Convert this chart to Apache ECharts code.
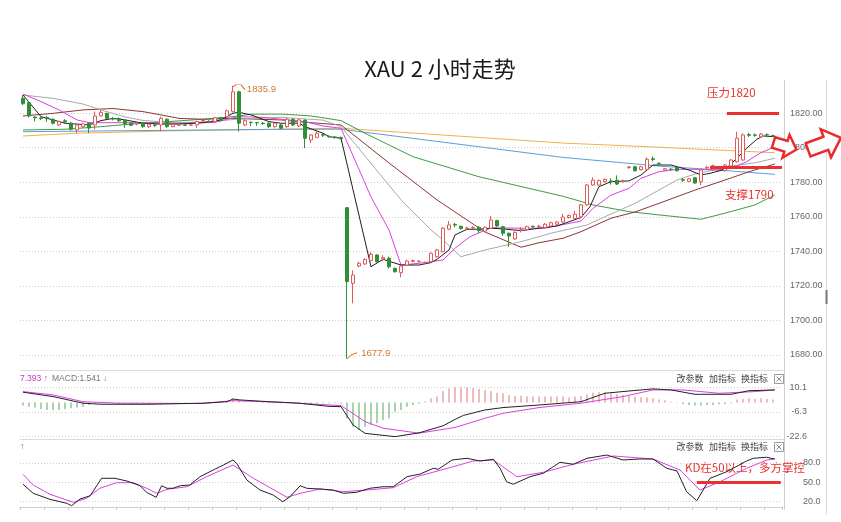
<!DOCTYPE html>
<html><head><meta charset="utf-8">
<script src="https://cdn.jsdelivr.net/npm/echarts@6/dist/echarts.min.js"></script>
<style>html,body{margin:0;padding:0;background:#fff}#c{width:841px;height:522px}</style>
</head><body><div id="c"></div>
<script>
// ---------- DATA ----------
// candles: [open, close, low, high]
const candles = [
[1828.6,1825.5,1824.7,1830.5],[1826.1,1818.4,1817.5,1826.8],[1817.8,1817.3,1815.3,1818],[1817.2,1817.0,1816,1818],[1817.5,1816.8,1815,1818.5],
[1816.5,1814.2,1813.5,1817],[1813.2,1815.1,1812.5,1815.6],[1815.6,1815.0,1814,1816.5],[1814.2,1810.7,1810,1814.8],[1810.3,1813.2,1808.5,1813.6],
[1812.2,1813.8,1811.5,1814.5],[1814.2,1811.4,1808.5,1814.5],[1813.2,1818.4,1810.5,1821],[1818.4,1820.5,1818,1822],[1819.9,1817.0,1816.5,1820.3],
[1816.8,1816.6,1815.8,1817.8],[1817.0,1815.6,1815,1817.5],[1816.0,1814.0,1811.5,1816.5],[1814.2,1813.0,1812.5,1814.6],[1813.8,1814.2,1813,1815],
[1814.5,1812.2,1811.6,1814.8],[1812.2,1813.6,1811.5,1814.2],[1813.2,1813.0,1812,1814],[1813.2,1817.0,1809.5,1818],[1816.5,1812.2,1811.5,1817],
[1812.2,1813.4,1811.8,1814],[1813.0,1813.2,1812.6,1813.6],[1813.2,1813.0,1812.6,1813.6],[1813.1,1813.2,1812.6,1813.6],[1813.2,1815.2,1811.5,1815.6],
[1815.5,1815.8,1814.5,1816.5],[1815.2,1815.0,1814.2,1816],[1815.2,1817.3,1814.6,1818],[1817.5,1815.8,1815.2,1817.8],[1818.0,1821.4,1817.3,1822],
[1820.9,1832.4,1820.5,1835.9],[1832.4,1814.2,1809.3,1833],[1813.2,1815.7,1812.5,1816.5],[1814.8,1814.6,1812.5,1815],[1814.6,1814.4,1812.6,1814.8],
[1814.2,1814.0,1813.2,1814.8],[1814.2,1812.2,1811.5,1814.6],[1812.2,1814.2,1811.6,1814.6],[1813.2,1811.3,1810.8,1813.8],[1812.2,1816.5,1811.5,1817.6],
[1816.5,1813.2,1812.6,1817],[1812.6,1816.1,1812,1816.6],[1816.0,1805.5,1799.7,1816.4],[1804.5,1807.4,1802.7,1808],[1806.0,1808.4,1805.5,1809.8],
[1807.6,1807.3,1806.3,1808.5],[1806.6,1806.4,1805.8,1807.2],[1806.2,1806.0,1805.2,1806.8],[1806.0,1805.2,1804.8,1806.4],[1765.3,1722.5,1677.9,1765.5],
[1721.5,1726.3,1709.9,1729],[1731.5,1733.1,1730.8,1734],[1732.7,1735.4,1732.2,1736],[1734.6,1738.3,1734.2,1739.5],[1737.9,1734.0,1733.5,1738.3],
[1735.6,1736.4,1734.2,1737.8],[1736.0,1731.1,1730,1737],[1730.2,1728.2,1727.8,1730.6],[1727.7,1731.5,1725,1732],[1732.1,1734.4,1731.6,1735.2],
[1734.2,1734.6,1733.6,1735.4],[1734.1,1734.3,1733.5,1735],[1733.3,1733.5,1732.6,1734.2],[1734.0,1738.9,1733.5,1739.5],[1736.9,1740.8,1736.3,1741.5],
[1739.8,1753.4,1739.5,1754],[1752.8,1755.3,1752.3,1757.5],[1755.6,1755.2,1754,1756.5],[1754.5,1753.2,1752.6,1754.9],[1753.3,1753.5,1752.5,1754.4],
[1753.6,1753.8,1752.8,1754.6],[1754.0,1752.0,1750.5,1754.5],[1751.7,1754.0,1751.2,1754.5],[1753.4,1758.2,1753,1760.5],[1757.8,1754.7,1754.2,1758.3],
[1754.3,1750.5,1749,1754.8],[1750.5,1748.9,1742.7,1750.9],[1747.2,1751.0,1746.6,1751.6],[1752.2,1752.6,1751,1754],[1752.6,1754.3,1752.2,1755],
[1754.5,1754.2,1753.8,1755],[1754.2,1754.6,1753.5,1755.4],[1753.8,1755.7,1753.3,1756.4],[1754.7,1756.6,1754.2,1757.2],[1755.7,1757.0,1755.2,1757.6],
[1757.0,1759.9,1756.5,1761.8],[1759.6,1760.7,1759,1761.4],[1759.0,1761.5,1758.6,1763.5],[1760.0,1766.9,1759.2,1767.5],[1766.9,1778.4,1766.5,1779],
[1778.4,1781.3,1778,1782.8],[1778.4,1781.0,1778,1781.6],[1780.3,1781.7,1779.8,1782.2],[1780.8,1780.4,1778.6,1782.3],[1781.2,1779.0,1778.4,1784],
[1780.6,1780.8,1779.8,1781.6],[1788.5,1788.9,1787.8,1789.5],[1789.0,1786.7,1786.2,1789.5],[1787.3,1789.0,1786.8,1789.5],[1787.5,1793.3,1787,1794.5],
[1793.6,1793.2,1792.2,1795],[1791.0,1790.8,1790.2,1791.6],[1787.0,1787.8,1786.5,1788.3],[1787.6,1787.4,1786.8,1788.2],[1788.5,1786.7,1786.3,1789],
[1781.5,1781.2,1780.2,1782.3],[1780.5,1782.0,1780,1782.5],[1782.6,1779.6,1779,1783],[1780.3,1787.1,1778.4,1787.6],[1788.3,1788.7,1787.5,1789.5],
[1787.3,1789.6,1786.8,1790.2],[1788.6,1788.8,1787.8,1789.6],[1786.7,1790.0,1786.2,1790.6],[1789.4,1792.9,1789,1793.5],[1791.9,1805.5,1791.4,1809.3],
[1792.9,1807.4,1792.4,1808.4],[1807.6,1807.2,1806.2,1808.6],[1807.4,1807.2,1806.4,1808.3],[1806.3,1807.9,1805.8,1808.5],[1807.6,1807.4,1806.8,1808.3],
[1807.0,1806.8,1806.2,1807.6]
];
const slotCount = 127;
const categories = Array.from({length: slotCount}, (_, i) => 'K' + i);

// moving averages: [candle index, value]
const ma5 = [[0,1830.5],[3,1818],[7,1814.2],[11,1813.2],[13,1815.7],[15,1817],[17,1816.1],[20,1814.2],[23,1813.7],[26,1813.7],[30,1814.5],[33,1816.1],[35,1820],[36,1820.5],[38,1819],[41,1815.1],[43,1814.2],[46,1814.2],[47,1812.2],[50,1808.4],[51,1806.4],[53,1805.5],[58,1731.1],[60,1735.4],[63,1732.1],[66,1732.1],[68,1733.5],[69,1735.4],[71,1740.8],[72,1749.5],[74,1752.8],[76,1752.8],[78,1753.4],[80,1753],[83,1752],[86,1753.4],[89,1754.7],[93,1759.6],[94.5,1765.9],[96,1777.5],[98,1780.3],[101,1780.8],[103,1784.2],[105,1790],[108,1790],[111,1787.1],[113,1784.2],[114.5,1785.2],[117,1787.5],[119,1793.9],[120.6,1799.7],[122.3,1804.9],[123.4,1806.8],[125.3,1806.4]];
const ma10 = [[0,1831.1],[3,1826.7],[6,1821.9],[9,1816.1],[11,1814.5],[13,1814.5],[20,1814.5],[24,1814.2],[27,1814.2],[32,1814.7],[34,1816.5],[36,1818],[40,1817.6],[43,1816.5],[47,1815.1],[50,1812.6],[53,1811.3],[58,1771.5],[61,1752.4],[63,1732.1],[66,1733.1],[70,1735],[72,1741.8],[74.5,1748.5],[78,1753.7],[83,1753.4],[87,1753.4],[93,1757.6],[95,1764.9],[98,1772.6],[101,1776.5],[103,1782.3],[106,1786.1],[109,1787.5],[113,1787.5],[115.6,1787.1],[118,1788.1],[120.6,1791.9],[122.8,1796.8],[125.3,1800.6]];
const ma20 = [[0,1830.5],[5,1828.6],[10,1825.3],[13,1821.9],[17,1817.8],[20,1815.8],[25,1814.5],[30,1814.9],[36,1816.6],[43,1817.6],[50,1816],[53,1812.2],[63,1769.8],[68,1752.4],[70,1746.6],[73,1736.9],[77,1740.8],[83,1745.6],[88,1750.5],[94,1755.3],[97,1760.1],[102,1767.8],[106,1775.5],[109,1781.3],[112,1784.8],[115,1787.1],[118,1789.4],[122,1791.3],[125.3,1793.9]];
const ma30 = [[0,1818.4],[5,1819.9],[10,1821.9],[15,1822.7],[20,1820.9],[23,1819],[26,1817],[30,1816.5],[35,1817],[43,1816.1],[48,1814.5],[53,1813.2],[61,1791.2],[69,1769.8],[77,1751.2],[83,1742.4],[86,1745],[90,1747.6],[93,1751.4],[98,1759.2],[102,1762.8],[106,1767.8],[112,1775.5],[117,1781.3],[121,1786.1],[125.3,1790.6]];
const ma60 = [[0,1810.3],[7,1810.7],[13,1812.2],[18,1813.7],[24,1815.1],[30,1816.5],[35,1818],[38,1819.4],[43,1819.5],[48,1818.4],[53,1815.7],[57,1808.4],[65,1794.8],[76,1783.2],[90,1771.9],[95,1766.9],[101,1763],[106,1761.1],[113,1758.6],[117,1762.1],[122,1766.9],[125.3,1772.6]];
const ma120 = [[0,1809.3],[43,1810.7],[53,1810.7],[90,1794.4],[106,1789.4],[116,1787.1],[125.3,1784.6]];
const ma250 = [[0,1806.8],[9,1808.4],[24,1809.7],[43,1810.7],[53,1811.3],[90,1802.7],[106,1800.3],[125.3,1797.1]];

// MACD
const macdBars = [
-2.1,-2.8,-3.4,-4.3,-5,-5,-5,-4.5,-3.9,-3.4,
-2.8,-1.7,-0.8,-0.5,-0.3,-0.2,-0.3,-0.4,-0.4,-0.3,
-0.4,-0.3,-0.2,0.2,0.1,-0.2,-0.2,-0.2,-0.1,0.2,
0.3,0.2,0.4,0.4,1.2,2.6,1.2,0.4,0.2,-0.2,
-0.4,-0.5,-0.5,-0.5,-0.3,-0.4,-0.4,-1.2,-1.0,-0.8,
-0.6,-0.6,-0.6,-0.7,-10.5,-16.1,-18.3,-16.1,-14.9,-13.8,
-11.6,-10.5,-6.1,-5,-2.8,-1.7,-0.8,0.8,2.8,3.9,
7.6,9.4,10.1,10.1,10.1,9.4,9,8.3,7.6,6.5,
6.1,5,4.5,4.5,3.9,3.9,3.9,3.9,3.9,3.9,
3.9,3.2,3.9,4.3,5.4,6.5,6.8,6.8,6.1,5.4,
5,4.3,3.9,3.4,3.2,2.8,1.9,1.5,0.5,0.3,
-1.2,-1.7,-2.1,-2.1,-1.7,-1.7,-1.2,-1.2,-0.5,1.9,
2.3,2.8,2.3,2.8,2.3,1.9
];
const difLine = [[0,6.8],[5,3.9],[10,-0.5],[13,-1.2],[21,-1.2],[30,-0.5],[34,0.5],[35,2.3],[36,1.7],[41,0.5],[46,-0.5],[51,-2.6],[53,-2.8],[55,-14.9],[57,-20.5],[62,-22.7],[66,-20.2],[70,-15.5],[72,-11.3],[73.4,-8.6],[77,-5],[80,-3.4],[86,-1.7],[93,0.5],[97,6.1],[101,7.6],[105,9],[108,8.3],[112,5.4],[118,5.4],[121,7.8],[125.3,8.3]];
const deaLine = [[0,7.2],[5,5],[10,0.5],[16,-0.5],[30,-0.7],[35,1.2],[43,0.1],[53,-2.1],[57,-12.7],[60,-17.1],[66,-20.4],[72,-16.6],[77,-10.5],[80,-7.2],[86,-3.4],[93,-0.5],[100,3.9],[105,8.3],[110,8.3],[116,6.1],[122,7.2],[125.3,8.3]];

// KD
const kLine = [[0,46.9],[1.7,32.9],[4.5,23.5],[7.3,17.3],[8.1,13.6],[9.5,24],[11.2,29.1],[13.1,56.2],[15.3,56.2],[17.3,52],[19.5,44.7],[20.6,34.4],[22.2,26.7],[23.1,44.7],[24,40.7],[25,40.7],[26.2,44.7],[27.8,45.8],[29.5,58.7],[31.7,69.1],[33.4,76.9],[35,84.7],[35.6,79.5],[37.3,53.6],[39.5,38],[41.7,30.2],[43.3,19.8],[44.5,27.6],[46.2,44.7],[47.3,40.7],[49.5,39.6],[51.7,38],[53.4,32.9],[55.6,34.4],[57.8,40.7],[60,43.1],[61.7,43.1],[64,58.7],[66.2,62.9],[68.4,71.8],[69.2,70.2],[71.5,84.7],[74,87.3],[76.2,83.1],[78.4,85.8],[79.5,71.8],[80.6,50.9],[81.7,46.9],[84.5,58.7],[86.7,64],[89.5,81.1],[91.7,78],[94,87.3],[97.3,92.4],[100,84.7],[102.8,86.2],[105,86.2],[107.3,71.8],[109,67.6],[110.6,35.4],[112.3,21.4],[114.5,56.2],[117.3,66.5],[120.6,83.1],[121.7,87.3],[123.9,88.9],[125.3,86.2]];
const dLine = [[0,62.4],[1.7,45.8],[4.5,31.3],[8.4,18.9],[10.6,25.1],[12.8,40.7],[15.6,49.4],[18.4,49.4],[20.6,40.7],[22.3,32.9],[24,39.1],[27.3,43.1],[30.6,58.7],[35,76.9],[38.4,56.2],[44,26.7],[46.2,32.9],[49.5,39.6],[53.4,35.4],[57.3,38],[61.7,41.6],[65.6,58.7],[71.7,74.2],[75,83.1],[78.4,84.7],[82.3,58.7],[86.7,65.5],[91.7,78],[98.4,90.9],[105,86.2],[109.5,69.1],[112.8,38],[116.2,50.9],[120.6,71.8],[124,84.7],[125.3,86.2]];

// ticks
const priceTicks = [1680,1700,1720,1740,1760,1780,1800,1820];
const macdTicks = [10.1,-6.3,-22.6];
const kdTicks = [80,50,20];

// annotations
const resistanceLine = [[117.3,1820],[126,1820]];
const supportLine = [[114.5,1788.5],[126.5,1788.5]];
const kdLevelLine = [[112.3,50],[126.3,50]];
const highPoint = [35, 1835.9];
const lowPoint = [54, 1677.9];

// ---------- CHART ----------
const RED = '#e05a5a', GREEN = '#2f8f37', ANNO = '#e8322f';
const labelFont = {fontSize: 9, color: '#666', fontFamily: 'Liberation Sans'};
const dotted = {color: '#cfcfcf', type: [1, 2], width: 1};
const gridBase = {left: 20, width: 762, outerBoundsMode: 'none', containLabel: false};

function maSeries(name, data, color) {
  return {name, type: 'line', xAxisIndex: 1, yAxisIndex: 0, data, showSymbol: false, symbol: 'none',
    lineStyle: {color, width: 1}, silent: true, z: 3};
}

const chart = echarts.init(document.getElementById('c'), null, {renderer: 'canvas', width: 841, height: 522});
chart.setOption({
  animation: false,
  backgroundColor: '#fff',
  grid: [
    Object.assign({top: 78.65, height: 310.9}, gridBase),
    Object.assign({top: 370.8, height: 65.7}, gridBase),
    Object.assign({top: 443.7, height: 77.2}, gridBase)
  ],
  xAxis: [
    {type: 'category', gridIndex: 0, data: categories, show: false, boundaryGap: true},
    {type: 'value', gridIndex: 0, min: -0.5, max: slotCount - 0.5, show: false},
    {type: 'category', gridIndex: 1, data: categories, show: false, boundaryGap: true},
    {type: 'value', gridIndex: 1, min: -0.5, max: slotCount - 0.5, show: false},
    {type: 'category', gridIndex: 2, data: categories, boundaryGap: true, offset: -14,
      axisLine: {show: true, lineStyle: {color: '#d0d0d0'}},
      axisTick: {show: true, interval: 3, length: 3, lineStyle: {color: '#c4c4c4'}},
      axisLabel: {show: false}, splitLine: {show: false}},
    {type: 'value', gridIndex: 2, min: -0.5, max: slotCount - 0.5, show: false}
  ],
  yAxis: [
    {type: 'value', gridIndex: 0, position: 'right', min: 1660, max: 1840, interval: 20,
      axisLine: {show: false}, axisTick: {show: false},
      axisLabel: Object.assign({margin: 8, formatter: v => priceTicks.includes(v) ? v.toFixed(2) : ''}, labelFont),
      splitLine: {show: true, lineStyle: dotted, showMinLine: false, showMaxLine: false}},
    {type: 'value', gridIndex: 1, position: 'right', min: -22.6, max: 21, interval: 16.35,
      axisLine: {show: false}, axisTick: {show: false},
      axisLabel: Object.assign({margin: 25, align: 'right', formatter: v => {
        const t = macdTicks.find(t => Math.abs(t - v) < 0.2); return t === undefined ? '' : t.toFixed(1);
      }}, labelFont),
      splitLine: {show: true, lineStyle: dotted, showMaxLine: false}},
    {type: 'value', gridIndex: 2, position: 'right', min: -10, max: 110, interval: 30,
      axisLine: {show: false}, axisTick: {show: false},
      axisLabel: Object.assign({margin: 21, formatter: v => kdTicks.includes(v) ? v.toFixed(1) : ''}, labelFont),
      splitLine: {show: true, lineStyle: dotted, showMinLine: false, showMaxLine: false}}
  ],
  series: [
    {type: 'candlestick', xAxisIndex: 0, yAxisIndex: 0, data: candles, barWidth: 4, z: 4,
      itemStyle: {color: '#ffffff', color0: GREEN, borderColor: RED, borderColor0: GREEN, borderWidth: 1},
      markPoint: {
        silent: true, animation: false,
        data: [
          {coord: highPoint, value: highPoint[1], symbol: 'path://M0,2 L3,0 L8,0 L12,5', symbolSize: [12, 5], symbolOffset: [6, 1.5],
            itemStyle: {color: 'none', borderColor: '#d2782f', borderWidth: 1},
            label: {show: true, position: 'right', distance: 1, formatter: p => String(p.value), color: '#d2782f', fontSize: 9.5, fontFamily: 'Liberation Sans', offset: [-3, 2]}},
          {coord: lowPoint, value: lowPoint[1], symbol: 'path://M0,6 L5,2 L10,0', symbolSize: [10, 6], symbolOffset: [5, -3],
            itemStyle: {color: 'none', borderColor: '#d2782f', borderWidth: 1},
            label: {show: true, position: 'right', distance: 1, formatter: p => String(p.value), color: '#d2782f', fontSize: 9.5, fontFamily: 'Liberation Sans', offset: [0, -2]}}
        ]
      }},
    maSeries('MA250', ma250, '#f0b24a'),
    maSeries('MA120', ma120, '#5b9fd6'),
    maSeries('MA60', ma60, '#3f9b3f'),
    maSeries('MA30', ma30, '#8e3535'),
    maSeries('MA20', ma20, '#a9a9a9'),
    maSeries('MA10', ma10, '#de3fde'),
    Object.assign(maSeries('MA5', ma5, '#1e1e1e'), {
      markLine: {silent: true, symbol: ['none', 'none'], label: {show: false}, animation: false,
        lineStyle: {color: ANNO, width: 3, type: 'solid'},
        data: [
          [{coord: resistanceLine[0]}, {coord: resistanceLine[1]}],
          [{coord: supportLine[0]}, {coord: supportLine[1]}]
        ]}
    }),
    {type: 'bar', xAxisIndex: 2, yAxisIndex: 1, data: macdBars, barWidth: 1, silent: true,
      itemStyle: {color: p => p.value >= 0 ? '#e07a7a' : '#5aa55a'}},
    {type: 'line', xAxisIndex: 3, yAxisIndex: 1, data: deaLine, showSymbol: false, symbol: 'none', lineStyle: {color: '#de3fde', width: 1}, silent: true},
    {type: 'line', xAxisIndex: 3, yAxisIndex: 1, data: difLine, showSymbol: false, symbol: 'none', lineStyle: {color: '#222', width: 1}, silent: true},
    {type: 'line', xAxisIndex: 5, yAxisIndex: 2, data: dLine, showSymbol: false, symbol: 'none', lineStyle: {color: '#de3fde', width: 1}, silent: true},
    {type: 'line', xAxisIndex: 5, yAxisIndex: 2, data: kLine, showSymbol: false, symbol: 'none', lineStyle: {color: '#222', width: 1}, silent: true,
      markLine: {silent: true, symbol: ['none', 'none'], label: {show: false}, animation: false,
        lineStyle: {color: ANNO, width: 3, type: 'solid'},
        data: [[{coord: kdLevelLine[0]}, {coord: kdLevelLine[1]}]]}}
  ],
  graphic: [
    {type: 'text', x: 440, y: 69, style: {text: 'XAU 2 小时走势', fontSize: 22, fontFamily: 'Noto Sans CJK SC', fill: '#1a1a1a', align: 'center', verticalAlign: 'middle'}},
    // panel frames
    {type: 'rect', shape: {x: 20, y: 364, width: 762, height: 6}, style: {fill: '#fff'}, z: 100},
    {type: 'line', shape: {x1: 20, y1: 370.5, x2: 784, y2: 370.5}, style: {stroke: '#dcdcdc', lineWidth: 1}, z: 100},
    {type: 'line', shape: {x1: 20, y1: 439.5, x2: 784, y2: 439.5}, style: {stroke: '#dcdcdc', lineWidth: 1}},
    {type: 'line', shape: {x1: 784.5, y1: 80, x2: 784.5, y2: 510}, style: {stroke: '#d0d0d0', lineWidth: 1}},
    {type: 'line', shape: {x1: 826.5, y1: 80, x2: 826.5, y2: 515}, style: {stroke: '#d8d8d8', lineWidth: 1}},
    {type: 'line', shape: {x1: 826.5, y1: 290, x2: 826.5, y2: 304}, style: {stroke: '#777', lineWidth: 2}},
    // MACD header
    {type: 'text', x: 20, y: 379, style: {text: '7.393 ↑', fontSize: 8.5, fontFamily: 'Liberation Sans', fill: '#c43ac4', verticalAlign: 'middle'}},
    {type: 'text', x: 52, y: 379, style: {text: 'MACD:1.541 ↓', fontSize: 8.5, fontFamily: 'Liberation Sans', fill: '#777', verticalAlign: 'middle'}},
    {type: 'text', x: 676.5, y: 379, style: {text: '改参数', fontSize: 9, fontFamily: 'Noto Sans CJK SC', fill: '#444', verticalAlign: 'middle'}},
    {type: 'text', x: 709, y: 379, style: {text: '加指标', fontSize: 9, fontFamily: 'Noto Sans CJK SC', fill: '#444', verticalAlign: 'middle'}},
    {type: 'text', x: 741, y: 379, style: {text: '换指标', fontSize: 9, fontFamily: 'Noto Sans CJK SC', fill: '#444', verticalAlign: 'middle'}},
    {type: 'rect', shape: {x: 774.5, y: 374.5, width: 9, height: 9}, style: {fill: '#fff', stroke: '#999', lineWidth: 1}},
    {type: 'line', shape: {x1: 776.5, y1: 376.5, x2: 781.5, y2: 381.5}, style: {stroke: '#888', lineWidth: 1}},
    {type: 'line', shape: {x1: 781.5, y1: 376.5, x2: 776.5, y2: 381.5}, style: {stroke: '#888', lineWidth: 1}},
    // KD header
    {type: 'text', x: 20, y: 447, style: {text: '↑', fontSize: 9, fontFamily: 'Liberation Sans', fill: '#c43ac4', verticalAlign: 'middle'}},
    {type: 'text', x: 676.5, y: 447, style: {text: '改参数', fontSize: 9, fontFamily: 'Noto Sans CJK SC', fill: '#444', verticalAlign: 'middle'}},
    {type: 'text', x: 709, y: 447, style: {text: '加指标', fontSize: 9, fontFamily: 'Noto Sans CJK SC', fill: '#444', verticalAlign: 'middle'}},
    {type: 'text', x: 741, y: 447, style: {text: '换指标', fontSize: 9, fontFamily: 'Noto Sans CJK SC', fill: '#444', verticalAlign: 'middle'}},
    {type: 'rect', shape: {x: 774.5, y: 442.5, width: 9, height: 9}, style: {fill: '#fff', stroke: '#999', lineWidth: 1}},
    {type: 'line', shape: {x1: 776.5, y1: 444.5, x2: 781.5, y2: 449.5}, style: {stroke: '#888', lineWidth: 1}},
    {type: 'line', shape: {x1: 781.5, y1: 444.5, x2: 776.5, y2: 449.5}, style: {stroke: '#888', lineWidth: 1}},
    // annotations
    {type: 'text', x: 707, y: 93, style: {text: '压力1820', fontSize: 11.5, fontFamily: 'Noto Sans CJK SC', fill: ANNO, verticalAlign: 'middle'}},
    {type: 'text', x: 725, y: 195, style: {text: '支撑1790', fontSize: 11.5, fontFamily: 'Noto Sans CJK SC', fill: ANNO, verticalAlign: 'middle'}},
    {type: 'text', x: 685, y: 468, style: {text: 'KD在50以上，多方掌控', fontSize: 11.5, fontFamily: 'Noto Sans CJK SC', fill: ANNO, verticalAlign: 'middle'}},
    {type: 'polygon', x: 785, y: 146, rotation: -0.3, z: 10,
      shape: {points: [[-12,-5.5],[1,-5.5],[1,-12],[12,0],[1,12],[1,5.5],[-12,5.5]]},
      style: {fill: '#fff', stroke: '#ec2a2a', lineWidth: 2.5}},
    {type: 'polygon', x: 824, y: 144, rotation: 0.35, z: 10,
      shape: {points: [[-17,-7],[2,-7],[2,-15],[18,0],[2,15],[2,7],[-17,7]]},
      style: {fill: '#fff', stroke: '#ec2a2a', lineWidth: 2.5}}
  ]
});
</script>
</body></html>
